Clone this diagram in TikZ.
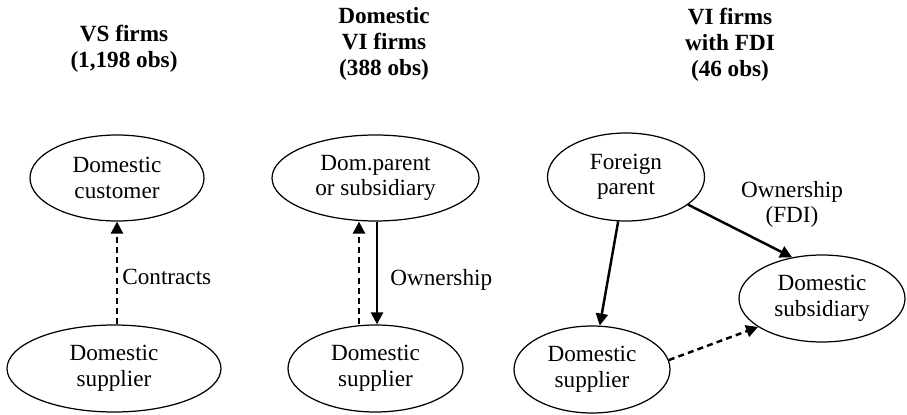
\documentclass[tikz,border=0pt]{standalone}
\usepackage{fontspec}
\setmainfont{Liberation Serif}
\usetikzlibrary{arrows.meta,shapes.geometric}

\begin{document}
\begin{tikzpicture}[
        firm/.style = {draw, ellipse, line width=0.7pt, inner sep=0pt, align=center,
                       font=\fontsize{13.2}{14.5}\selectfont},
        owns/.style = {line width=1.4pt, -{Triangle[length=0.24cm, width=0.24cm]}},
        deal/.style = {owns, dash pattern=on 3.4pt off 2.4pt},
        hdr/.style = {anchor=base, align=center, inner sep=0pt,
                      font=\fontsize{13.2}{15}\selectfont\bfseries},
        lbl/.style = {inner sep=0pt, align=center, font=\fontsize{13.2}{14}\selectfont}]
        \useasboundingbox (0,0) rectangle (18.14,8.28);

        % headers (base = last line)
        \node[hdr] (hvs) at (2.48,6.92) {VS firms\\(1,198 obs)};
        \node[hdr] (hvi) at (7.68,6.76) {Domestic\\VI firms\\(388 obs)};
        \node[hdr] (hfdi) at (14.6,6.74) {VI firms\\with FDI\\(46 obs)};

        % VS firms
        \node[firm, minimum width=3.48cm, minimum height=1.72cm] (cust) at (2.34,4.72) {Domestic\\customer};
        \node[firm, minimum width=4.28cm, minimum height=1.74cm] (sup1) at (2.28,0.91) {Domestic\\supplier};
        \draw[deal] (cust.south |- sup1.north) -- (cust.south);
        \node[lbl, anchor=base west] (contr) at (2.44,2.60) {Contracts};

        % domestic VI firms
        \node[firm, minimum width=4.14cm, minimum height=1.72cm] (dompar) at (7.51,4.72) {Dom.parent\\or subsidiary};
        \node[firm, minimum width=3.50cm, minimum height=1.74cm] (sup2) at (7.51,0.91) {Domestic\\supplier};
        \draw[deal] ([xshift=-0.33cm]sup2.north) -- ([xshift=-0.33cm]dompar.south);
        \draw[owns] ([xshift=0.03cm]dompar.south) -- ([xshift=0.03cm]sup2.north);
        \node[lbl, anchor=base west] (own2) at (7.80,2.58) {Ownership};

        % VI firms with FDI
        \node[firm, minimum width=3.14cm, minimum height=1.76cm] (forpar) at (12.52,4.74) {Foreign\\parent};
        \node[firm, minimum width=3.32cm, minimum height=1.74cm] (sub) at (16.44,2.31) {Domestic\\subsidiary};
        \node[firm, minimum width=3.12cm, minimum height=1.74cm] (sup3) at (11.84,0.89) {Domestic\\supplier};
        \draw[owns] (forpar) -- (sup3);
        \draw[owns] (forpar.336) -- (sub.126);
        \draw[deal] (sup3.7) -- (sub.204);
        \node[lbl, anchor=base] (own3) at (15.84,3.84) {Ownership\\(FDI)};
    \end{tikzpicture}
\end{document}
